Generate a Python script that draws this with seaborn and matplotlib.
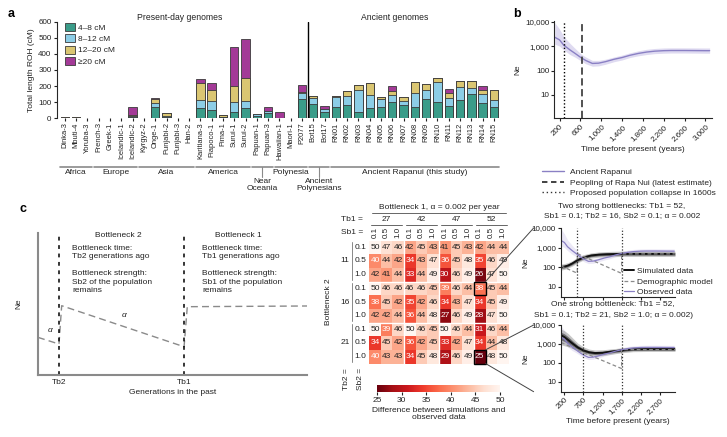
import numpy as np
import pandas as pd
import matplotlib
matplotlib.use("Agg")
import matplotlib.pyplot as plt
import seaborn as sns
from matplotlib.lines import Line2D
from matplotlib.patches import Patch, Rectangle, ConnectionPatch
from matplotlib.transforms import blended_transform_factory

# ---------------- data : panel a ----------------
samples = ['Dinka-3', 'Mbuti-4', 'Yoruba-3', 'French-3', 'Greek-1', 'Icelandic-1', 'Icelandic-2',
           'Kyrgyz-2', 'Onge-1', 'Punjabi-2', 'Punjabi-3', 'Han-2', 'Karitiana-3', 'Piapoco-1',
           'Pima-1', 'Surui-1', 'Surui-2', 'Papuan-1', 'Papuan-3', 'Hawaiian-1', 'Maori-1', 'P2077',
           'Bot15', 'Bot17', 'RN01', 'RN02', 'RN03', 'RN04', 'RN05', 'RN06', 'RN07', 'RN08', 'RN09',
           'RN10', 'RN11', 'RN12', 'RN13', 'RN14', 'RN15']
roh_4_8 = [2, 3, 0, 0, 0, 0, 8, 0, 72, 10, 0, 0, 65, 52, 5, 40, 65, 15, 30, 2, 0, 120, 89, 40,
           68, 80, 42, 62, 68, 103, 80, 72, 122, 103, 77, 114, 149, 93, 68]
roh_8_12 = [0, 0, 0, 0, 0, 0, 4, 0, 24, 5, 0, 0, 50, 56, 0, 60, 40, 10, 15, 0, 0, 35, 35, 17,
            62, 60, 135, 83, 52, 40, 30, 88, 54, 120, 51, 79, 37, 56, 48]
roh_12_20 = [8, 2, 0, 0, 0, 0, 6, 0, 24, 15, 0, 0, 105, 68, 15, 103, 145, 0, 0, 0, 0, 10, 13, 0,
             10, 30, 30, 77, 15, 29, 25, 66, 39, 30, 27, 37, 48, 27, 60]
roh_20 = [0, 0, 0, 0, 0, 0, 52, 0, 5, 0, 0, 0, 25, 44, 3, 237, 243, 0, 25, 38, 0, 42, 0, 20,
          0, 0, 0, 0, 0, 27, 0, 0, 0, 0, 27, 0, 0, 23, 0]
roh_classes = ['4–8 cM', '8–12 cM', '12–20 cM', '≥20 cM']
groups = [("Africa", 'Dinka-3', 'Yoruba-3'), ("Europe", 'French-3', 'Icelandic-2'),
          ("Asia", 'Kyrgyz-2', 'Han-2'), ("America", 'Karitiana-3', 'Surui-2'),
          ("Near\nOceania", 'Papuan-1', 'Papuan-3'), ("Polynesia", 'Hawaiian-1', 'P2077'),
          ("Ancient\nPolynesians", 'Bot15', 'Bot17'),
          ("Ancient Rapanui (this study)", 'RN01', 'RN15')]
first_ancient = 'Bot15'

# ---------------- data : panel b / c observed ----------------
obs_years = [110, 200, 280, 400, 500, 610, 700, 830, 950, 1080, 1250, 1400, 1550, 1710, 1870,
             2025, 2200, 2340, 2600, 2800, 3000, 3080]
obs_ne = [2300, 1800, 1100, 700, 500, 340, 260, 195, 200, 230, 290, 340, 420, 500, 570, 620,
          650, 660, 660, 655, 650, 650]
obs_hi = [9000, 5000, 2500, 1300, 800, 480, 360, 260, 260, 290, 360, 430, 530, 640, 740, 800,
          840, 850, 850, 845, 840, 840]
obs_lo = [1200, 1000, 700, 450, 350, 250, 190, 150, 155, 180, 230, 270, 340, 400, 450, 490,
          510, 520, 520, 515, 510, 510]
collapse_year = 290
peopling_year = 625
b_xticks = [200, 600, 1000, 1400, 1800, 2200, 2600, 3000]

# ---------------- data : panel c heatmap ----------------
tb1_vals = [27, 42, 47, 52]
tb2_vals = [11, 16, 21]
sb_vals = ['0.1', '0.5', '1.0']
diff_matrix = [
    [50, 47, 46, 42, 45, 43, 41, 45, 43, 42, 44, 44],
    [40, 44, 42, 34, 43, 47, 36, 45, 48, 35, 46, 49],
    [42, 41, 44, 33, 44, 49, 30, 46, 49, 26, 47, 50],
    [50, 46, 46, 46, 46, 45, 39, 46, 44, 38, 45, 44],
    [38, 45, 42, 35, 42, 46, 34, 43, 47, 34, 45, 49],
    [42, 42, 44, 36, 44, 48, 27, 46, 49, 28, 47, 50],
    [50, 39, 46, 50, 46, 45, 50, 46, 44, 31, 46, 44],
    [34, 45, 42, 36, 42, 45, 33, 42, 47, 34, 44, 48],
    [40, 43, 43, 34, 45, 48, 29, 46, 49, 25, 48, 50],
]
highlight = [(16, '0.1', 52, '0.1'), (21, '1.0', 52, '0.1')]

# ---------------- data : panel c simulations ----------------
sim_years = [110, 200, 300, 400, 538, 700, 900, 1100, 1300, 1500, 1700, 2000, 2400, 2800, 3100]
sim1_ne = [100, 105, 120, 150, 220, 310, 390, 430, 450, 460, 470, 470, 470, 470, 470]
sim1_lo = [70, 75, 90, 110, 160, 230, 290, 320, 330, 340, 345, 345, 345, 345, 345]
sim1_hi = [140, 150, 170, 210, 310, 430, 530, 590, 620, 640, 650, 650, 650, 650, 650]
sim2_years = [110, 200, 300, 400, 550, 700, 850, 1000, 1200, 1400, 1700, 2000, 2400, 2800, 3100]
sim2_ne = [2900, 2300, 1600, 1100, 650, 450, 360, 330, 340, 390, 460, 520, 530, 530, 530]
sim2_lo = [900, 800, 700, 580, 400, 300, 250, 230, 240, 280, 340, 390, 400, 400, 400]
sim2_hi = [6000, 5000, 3500, 2200, 1100, 700, 530, 480, 490, 540, 620, 700, 710, 710, 710]
model1_years = [110, 538, 538, 1700, 1700, 3100]
model1_ne = [113, 48, 480, 47, 470, 470]
model2_years = [110, 700, 1700, 1700, 3100]
model2_ne = [1200, 350, 50, 500, 500]
bott1_years = [538, 1700]
bott2_years = [700, 1700]
c_xticks = [200, 700, 1200, 1700, 2200, 2700]

# schematic model (relative units)
schem_gen = [0.0, 0.078, 0.088, 0.543, 0.555, 1.0]
schem_ne = [0.265, 0.218, 0.488, 0.199, 0.481, 0.486]
schem_tb = [0.078, 0.543]

# ---------------- style ----------------
sns.set_theme(style='ticks')
plt.rcParams['font.family'] = ['Liberation Sans', 'DejaVu Sans']
plt.rcParams['axes.linewidth'] = 0.8
plt.rcParams['xtick.major.width'] = 0.8
plt.rcParams['ytick.major.width'] = 0.8
plt.rcParams['xtick.major.size'] = 2.5
plt.rcParams['ytick.major.size'] = 2.5
FS = 6.0
TK = 5.8
TXT = '#222222'
teal, blue, yellow, purple = '#3a9c89', '#8ccde6', '#dac672', '#a33a97'
obs_col = '#8a80c4'

W, H = 727, 437
fig = plt.figure(figsize=(W / 100, H / 100), dpi=100)


def axpx(l, t, r, b):
    return fig.add_axes([l / W, 1 - b / H, (r - l) / W, (b - t) / H])


def ftext(x, y, s, **kw):
    kw.setdefault('fontsize', FS)
    kw.setdefault('color', TXT)
    return fig.text(x / W, 1 - y / H, s, **kw)


def fy(py):
    return 1 - py / H


def comma(v):
    return f"{v:,}"

# ================= panel a =================
ax_a = axpx(57, 21.7, 499, 118.3)
df = pd.DataFrame({'sample': samples})
c1 = np.array(roh_4_8, float)
c2 = c1 + np.array(roh_8_12)
c3 = c2 + np.array(roh_12_20)
c4 = c3 + np.array(roh_20)
for name, arr in [('c1', c1), ('c2', c2), ('c3', c3), ('c4', c4)]:
    df[name] = np.where(arr == 0, np.nan, arr)
for col, colr in [('c4', purple), ('c3', yellow), ('c2', blue), ('c1', teal)]:
    sns.barplot(data=df, x='sample', y=col, order=samples, color=colr, width=0.74,
                saturation=1, edgecolor='#3a3a3a', linewidth=0.6, errorbar=None, ax=ax_a)
ax_a.set_xlim(-0.7, len(samples) - 0.55)
ax_a.set_ylim(0, 600)
ax_a.set_yticks([0, 100, 200, 300, 400, 500, 600])
ax_a.set_xlabel('')
ax_a.set_ylabel('Total length ROH (cM)', fontsize=FS, color=TXT, labelpad=2)
ax_a.tick_params(axis='x', rotation=90, labelsize=5.4, length=2, pad=1, colors=TXT)
ax_a.tick_params(axis='y', labelsize=TK, pad=1.5, colors=TXT)
sns.despine(ax=ax_a, bottom=True)
sep = samples.index(first_ancient) - 0.5
ax_a.axvline(sep, color='black', lw=1)
handles = [Patch(facecolor=c, edgecolor='#3a3a3a', lw=0.6) for c in (teal, blue, yellow, purple)]
ax_a.legend(handles, roh_classes, loc='upper left', bbox_to_anchor=(65 / W, fy(23)),
            bbox_transform=fig.transFigure, frameon=False, fontsize=FS, handlelength=1.2,
            handleheight=1.1, labelspacing=0.3, handletextpad=0.4, borderpad=0, borderaxespad=0)
tr = blended_transform_factory(ax_a.transData, fig.transFigure)
for name, s, e in groups:
    i0, i1 = samples.index(s), samples.index(e)
    ax_a.plot([i0 - 0.42, i1 + 0.42], [fy(167), fy(167)], transform=tr, clip_on=False,
              color='#8a8a8a', lw=1.2)
    mid = (i0 + i1) / 2
    if '\n' in name:
        ax_a.plot([mid, mid], [fy(167), fy(177)], transform=tr, clip_on=False, color='#8a8a8a', lw=0.8)
        ax_a.text(mid, fy(178), name, transform=tr, ha='center', va='top', fontsize=FS,
                  color=TXT, linespacing=1.1)
    else:
        ax_a.text(mid, fy(169.5), name, transform=tr, ha='center', va='top', fontsize=FS, color=TXT)
ftext(180, 18, 'Present-day genomes', ha='center', va='center', fontsize=6.2)
ftext(395, 18, 'Ancient genomes', ha='center', va='center', fontsize=6.2)
ftext(8, 14, 'a', fontsize=9, weight='bold', color='black', va='center')

# ================= panel b =================
ax_b = axpx(554.3, 20.7, 711.7, 118.3)
ax_b.set_yscale('log')
ax_b.fill_between(obs_years, obs_lo, obs_hi, color='#d8d2ee', alpha=0.8, lw=0)
sns.lineplot(x=obs_years, y=obs_ne, color=obs_col, lw=1.0, ax=ax_b)
ax_b.axvline(collapse_year, color='black', ls=(0, (1, 1.5)), lw=1)
ax_b.axvline(peopling_year, color='#444', ls=(0, (4, 2)), lw=1.3)
ax_b.set_xlim(100, 3120)
ax_b.set_ylim(1.1, 11000)
ax_b.set_xticks(b_xticks)
ax_b.set_xticklabels([comma(v) for v in b_xticks])
ax_b.set_yticks([10, 100, 1000, 10000])
ax_b.set_yticklabels([comma(v) for v in [10, 100, 1000, 10000]])
ax_b.minorticks_off()
ax_b.tick_params(axis='x', labelsize=TK, pad=1, colors=TXT)
ax_b.tick_params(axis='y', labelsize=TK, pad=1, colors=TXT)
for lab in ax_b.get_xticklabels():
    lab.set_rotation(45); lab.set_ha('right'); lab.set_rotation_mode('anchor')
ax_b.set_ylabel('Ne', fontsize=FS, color=TXT, labelpad=3)
ax_b.set_xlabel('Time before present (years)', fontsize=FS, color=TXT, labelpad=3)
sns.despine(ax=ax_b)
hb = [Line2D([], [], color=obs_col, lw=1),
      Line2D([], [], color='#333', lw=1.3, ls=(0, (3, 2))),
      Line2D([], [], color='#333', lw=1, ls=(0, (1, 2)))]
fig.legend(hb, ['Ancient Rapanui', 'Peopling of Rapa Nui (latest estimate)',
                'Proposed population collapse in 1600s'],
           loc='upper left', bbox_to_anchor=(542 / W, fy(168)), frameon=False, fontsize=FS,
           handlelength=2.6, labelspacing=0.35, handletextpad=0.8, borderpad=0, borderaxespad=0)
ftext(513, 14, 'b', fontsize=9, weight='bold', color='black', va='center')

# ================= panel c : schematic =================
ftext(20, 209, 'c', fontsize=9, weight='bold', color='black', va='center')
ax_s = axpx(38, 233, 307, 375)
ax_s.plot(schem_gen, schem_ne, color='#8a8a8a', lw=1, ls=(0, (5, 3)))
for t in schem_tb:
    ax_s.axvline(t, color='black', lw=1.1, ls=(0, (2.5, 3)))
ax_s.set_xlim(0, 1); ax_s.set_ylim(0, 1)
ax_s.set_xticks(schem_tb); ax_s.set_xticklabels(['Tb2', 'Tb1'])
ax_s.set_yticks([])
ax_s.tick_params(axis='x', length=0, pad=3, labelsize=FS, colors=TXT)
for sp in ('top', 'right'):
    ax_s.spines[sp].set_visible(False)
for sp in ('left', 'bottom'):
    ax_s.spines[sp].set_color('#8a8a8a'); ax_s.spines[sp].set_linewidth(1.5)
ax_s.set_ylabel('Ne', fontsize=FS, color=TXT, labelpad=11)
ax_s.set_xlabel('Generations in the past', fontsize=FS, color=TXT, labelpad=2)
ax_s.text(0.035, 0.30, 'α', fontsize=FS, style='italic', color=TXT, transform=ax_s.transAxes)
ax_s.text(0.31, 0.41, 'α', fontsize=FS, style='italic', color=TXT, transform=ax_s.transAxes)
for x0, xc, n in [(72, 118, '2'), (202, 238, '1')]:
    ftext(xc, 235, f'Bottleneck {n}', ha='center', va='center')
    ftext(x0, 252.5, f'Bottleneck time:\nTb{n} generations ago', va='center', linespacing=1.3)
    ftext(x0, 282, f'Bottleneck strength:\nSb{n} of the population\nremains', va='center',
          linespacing=1.3)

# ================= panel c : heatmap =================
ax_h = axpx(369.2, 240.5, 508.8, 363.5)
ax_cb = axpx(377, 385, 500, 392)
rows = [f'{t}_{s}' for t in tb2_vals for s in sb_vals]
cols = [f'{t}_{s}' for t in tb1_vals for s in sb_vals]
hm = pd.DataFrame(diff_matrix, index=rows, columns=cols)
sns.heatmap(hm, ax=ax_h, cmap='Reds_r', vmin=25, vmax=50, annot=True, fmt='d',
            annot_kws={'fontsize': 6.0}, cbar=True, cbar_ax=ax_cb,
            cbar_kws={'orientation': 'horizontal', 'ticks': [25, 30, 35, 40, 45, 50]},
            xticklabels=sb_vals * len(tb1_vals), yticklabels=sb_vals * len(tb2_vals))
for t in ax_h.texts:
    t.set_color('white' if int(t.get_text()) <= 40 else TXT)
for k in range(1, len(tb2_vals)):
    ax_h.axhline(k * len(sb_vals), color='white', lw=1)
for k in range(1, len(tb1_vals)):
    ax_h.axvline(k * len(sb_vals), color='white', lw=1)
for tb2, s2, tb1, s1 in highlight:
    r = rows.index(f'{tb2}_{s2}'); c = cols.index(f'{tb1}_{s1}')
    ax_h.add_patch(Rectangle((c, r), 1, 1, fill=False, ec='black', lw=1, clip_on=False, zorder=5))
ax_h.xaxis.tick_top()
ax_h.tick_params(axis='x', rotation=90, length=0, pad=1.5, labelsize=5.8, colors=TXT)
ax_h.tick_params(axis='y', rotation=0, length=0, pad=2, labelsize=6.0, colors=TXT)
ax_h.set_xlabel(''); ax_h.set_ylabel('')
cb = ax_h.collections[0].colorbar
cb.outline.set_visible(False)
ax_cb.tick_params(labelsize=6.0, length=2, pad=1.5, colors=TXT)
ax_cb.set_xlabel('Difference between simulations and\nobserved data', fontsize=FS, color=TXT,
                 labelpad=2, linespacing=1.15)
th = blended_transform_factory(ax_h.transData, fig.transFigure)
tv = blended_transform_factory(fig.transFigure, ax_h.transData)
n = len(sb_vals)
for k, tb in enumerate(tb1_vals):
    ax_h.text(k * n + n / 2, fy(219.5), str(tb), transform=th, ha='center', va='center',
              fontsize=FS, color=TXT)
    ax_h.plot([k * n + 0.15, k * n + n - 0.15], [fy(225), fy(225)], transform=th,
              clip_on=False, color='#666', lw=0.7)
ax_h.plot([0.2, len(cols) - 0.2], [fy(213), fy(213)], transform=th, clip_on=False,
          color='#666', lw=0.7)
ax_h.text(len(cols) / 2, fy(207.5), 'Bottleneck 1, α = 0.002 per year', transform=th,
          ha='center', va='center', fontsize=FS, color=TXT)
ftext(363, 219.5, 'Tb1 =', ha='right', va='center')
ftext(363, 233, 'Sb1 =', ha='right', va='center')
for k, tb in enumerate(tb2_vals):
    ax_h.text(345 / W, k * n + n / 2, str(tb), transform=tv, ha='center', va='center',
              fontsize=FS, color=TXT)
    ax_h.plot([352 / W, 352 / W], [k * n + 0.1, k * n + n - 0.1], transform=tv,
              clip_on=False, color='#888', lw=0.7)
ftext(328, 302, 'Bottleneck 2', rotation=90, ha='center', va='center')
ftext(347, 368, 'Tb2 =', rotation=90, ha='center', va='top')
ftext(360, 368, 'Sb2 =', rotation=90, ha='center', va='top')

# ================= panel c : simulation plots =================
ax_t = axpx(561, 228, 675, 296.7)
ax_u = axpx(561, 325, 675, 391.7)
configs = [(ax_t, sim_years, sim1_ne, sim1_lo, sim1_hi, model1_years, model1_ne, bott1_years),
           (ax_u, sim2_years, sim2_ne, sim2_lo, sim2_hi, model2_years, model2_ne, bott2_years)]
for ax, sy, sm, slo, shi, my, mn, bys in configs:
    ax.set_yscale('log')
    ax.fill_between(obs_years, obs_lo, obs_hi, color='#d8d2ee', alpha=0.5, lw=0)
    ax.fill_between(sy, slo, shi, color='#9a9a9a', alpha=0.55, lw=0)
    ax.fill_between(sy, np.sqrt(np.array(slo) * np.array(sm)),
                    np.sqrt(np.array(shi) * np.array(sm)), color='#3a3a3a', alpha=0.6, lw=0)
    sns.lineplot(x=sy, y=sm, color='#111111', lw=1.4, ax=ax)
    sns.lineplot(x=my, y=mn, sort=False, estimator=None, color='#8a8a8a', lw=0.9,
                 linestyle=(0, (3, 2)), ax=ax)
    sns.lineplot(x=obs_years, y=obs_ne, color=obs_col, lw=0.9, ax=ax)
    for v in bys:
        ax.axvline(v, color='#333', ls=(0, (1, 1.5)), lw=0.9)
    ax.set_xlim(110, 3100)
    ax.set_ylim(3, 10000)
    ax.set_yticks([10, 100, 1000, 10000])
    ax.set_yticklabels([comma(v) for v in [10, 100, 1000, 10000]])
    ax.minorticks_off()
    ax.set_xticks(c_xticks)
    ax.tick_params(axis='both', labelsize=TK, pad=1, colors=TXT)
    ax.set_ylabel('Ne', fontsize=FS, color=TXT, labelpad=2)
    sns.despine(ax=ax)
ax_t.set_xticklabels([])
ax_u.set_xticklabels([comma(v) for v in c_xticks])
for lab in ax_u.get_xticklabels():
    lab.set_rotation(45); lab.set_ha('right'); lab.set_rotation_mode('anchor')
ax_u.set_xlabel('Time before present (years)', fontsize=FS, color=TXT, labelpad=2)
hc = [Line2D([], [], color='#111', lw=1.4), Line2D([], [], color='#8a8a8a', lw=0.9, ls=(0, (3, 2))),
      Line2D([], [], color=obs_col, lw=0.9)]
fig.legend(hc, ['Simulated data', 'Demographic model', 'Observed data'], loc='upper left',
           bbox_to_anchor=(624 / W, fy(267.5)), frameon=False, fontsize=FS, handlelength=1.2,
           labelspacing=0.3, handletextpad=0.4, borderpad=0, borderaxespad=0)
ftext(622, 206, 'Two strong bottlenecks: Tb1 = 52,', ha='center', va='center')
ftext(622, 216, 'Sb1 = 0.1; Tb2 = 16, Sb2 = 0.1; α = 0.002', ha='center', va='center')
ftext(613, 305, 'One strong bottleneck: Tb1 = 52,', ha='center', va='center')
ftext(613, 315.5, 'Sb1 = 0.1; Tb2 = 21, Sb2 = 1.0; α = 0.002)', ha='center', va='center')

# connector lines from highlighted cells
(r1, c1_) = rows.index('16_0.1'), cols.index('52_0.1')
(r2, c2_) = rows.index('21_1.0'), cols.index('52_0.1')
for xyA, ax_target, xyB in [((c1_ + 1, r1), ax_t, (-0.24, 1.0)),
                            ((c2_ + 1, r2), ax_u, (-0.24, 1.0)),
                            ((c2_ + 1, r2 + 1), ax_u, (-0.24, 0.0))]:
    con = ConnectionPatch(xyA=xyA, coordsA=ax_h.transData, xyB=xyB, coordsB=ax_target.transAxes,
                          color='#444', lw=0.7)
    fig.add_artist(con)

fig.savefig('out.png', dpi=100)
